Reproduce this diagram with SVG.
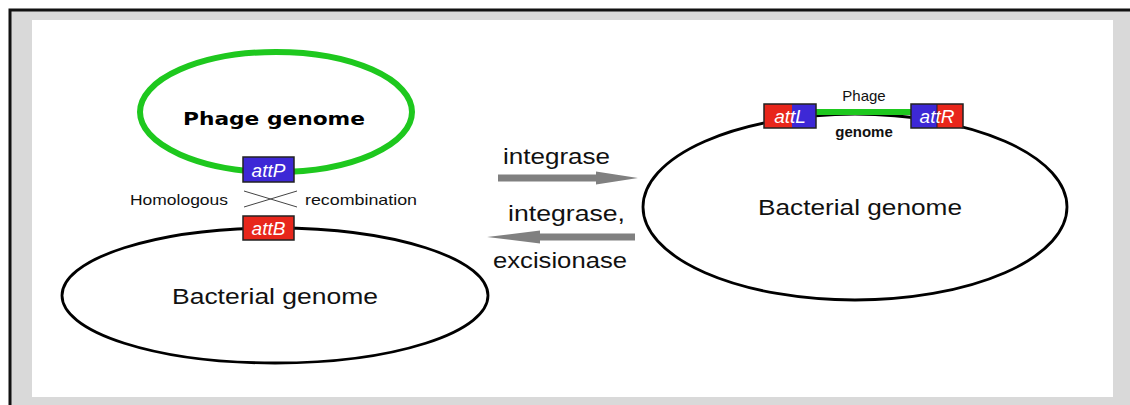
<svg xmlns="http://www.w3.org/2000/svg" width="1130" height="405" viewBox="0 0 1130 405">
<style>
.lbl{font-family:"Liberation Sans",Arial,sans-serif;fill:#111}
.att{font-family:"Liberation Sans",Arial,sans-serif;font-style:italic;fill:#fff;font-size:19px}
.box{stroke:#222;stroke-width:1.5}
.red{fill:#e8261b}
.blue{fill:#3d28d6}
.dna{fill:none;stroke:#000;stroke-width:2.8}
.arrow{fill:#808080}
</style>
<rect x="0" y="0" width="1130" height="405" fill="#fff"/>
<rect x="10" y="10" width="1125" height="400" fill="#d9d9d9" stroke="#111" stroke-width="3"/>
<rect x="32" y="20" width="1081" height="377" fill="#fff"/>

<g id="phage-genome">
<ellipse cx="276" cy="112" rx="136" ry="60" fill="none" stroke="#1ec81e" stroke-width="6"/>
<text x="274" y="125" text-anchor="middle" font-family="'DejaVu Sans',Verdana,sans-serif" font-weight="bold" font-size="18" textLength="182" lengthAdjust="spacingAndGlyphs" fill="#000">Phage genome</text>
</g>

<g id="attP">
<rect class="box blue" x="243" y="157" width="51" height="25"/>
<text class="att" x="268.5" y="176.5" text-anchor="middle">attP</text>
</g>

<g id="recombination">
<text class="lbl" x="130" y="205" font-size="15" textLength="98" lengthAdjust="spacingAndGlyphs">Homologous</text>
<line x1="244" y1="191" x2="297" y2="207" stroke="#444" stroke-width="1"/>
<line x1="244" y1="207" x2="297" y2="191" stroke="#444" stroke-width="1"/>
<text class="lbl" x="305" y="205" font-size="15" textLength="112" lengthAdjust="spacingAndGlyphs">recombination</text>
</g>

<g id="bacterial-genome-left">
<ellipse class="dna" cx="275" cy="295.5" rx="213" ry="67.5"/>
<text class="lbl" x="275" y="304" text-anchor="middle" font-size="22.5" textLength="206" lengthAdjust="spacingAndGlyphs">Bacterial genome</text>
</g>

<g id="attB">
<rect class="box red" x="243" y="216" width="51" height="24"/>
<text class="att" x="268.5" y="235" text-anchor="middle">attB</text>
</g>

<g id="connectors">
<polygon class="arrow" points="498,174.5 596,174.5 596,171.5 638,178 596,184.5 596,181.5 498,181.5"/>
<polygon class="arrow" points="635,233.5 540,233.5 540,230.5 487,237 540,243.5 540,240.5 635,240.5"/>
</g>

<g id="arrow-labels">
<text class="lbl" x="503" y="164" font-size="22.5" textLength="107" lengthAdjust="spacingAndGlyphs">integrase</text>
<text class="lbl" x="508" y="221" font-size="22.5" textLength="117" lengthAdjust="spacingAndGlyphs">integrase,</text>
<text class="lbl" x="493" y="268" font-size="22.5" textLength="134" lengthAdjust="spacingAndGlyphs">excisionase</text>
</g>

<g id="bacterial-genome-right">
<ellipse class="dna" cx="855" cy="207" rx="212" ry="93"/>
<text class="lbl" x="860" y="215" text-anchor="middle" font-size="22.5" textLength="204" lengthAdjust="spacingAndGlyphs">Bacterial genome</text>
</g>

<g id="integrated-phage">
<line x1="816" y1="112" x2="911" y2="112" stroke="#1ec81e" stroke-width="6"/>
<text class="lbl" x="864" y="101" text-anchor="middle" font-size="15">Phage</text>
<text class="lbl" x="864" y="137" text-anchor="middle" font-size="15" font-weight="bold">genome</text>
</g>

<g id="attL">
<rect class="red" x="764" y="104" width="28" height="24"/>
<rect class="blue" x="792" y="104" width="24" height="24"/>
<rect x="764" y="104" width="52" height="24" fill="none" stroke="#222" stroke-width="1.5"/>
<text class="att" x="790" y="123" text-anchor="middle">attL</text>
</g>

<g id="attR">
<rect class="blue" x="911" y="104" width="26" height="24"/>
<rect class="red" x="937" y="104" width="26" height="24"/>
<rect x="911" y="104" width="52" height="24" fill="none" stroke="#222" stroke-width="1.5"/>
<line x1="937" y1="104" x2="937" y2="128" stroke="#222" stroke-width="1"/>
<text class="att" x="937" y="123" text-anchor="middle">attR</text>
</g>
</svg>
